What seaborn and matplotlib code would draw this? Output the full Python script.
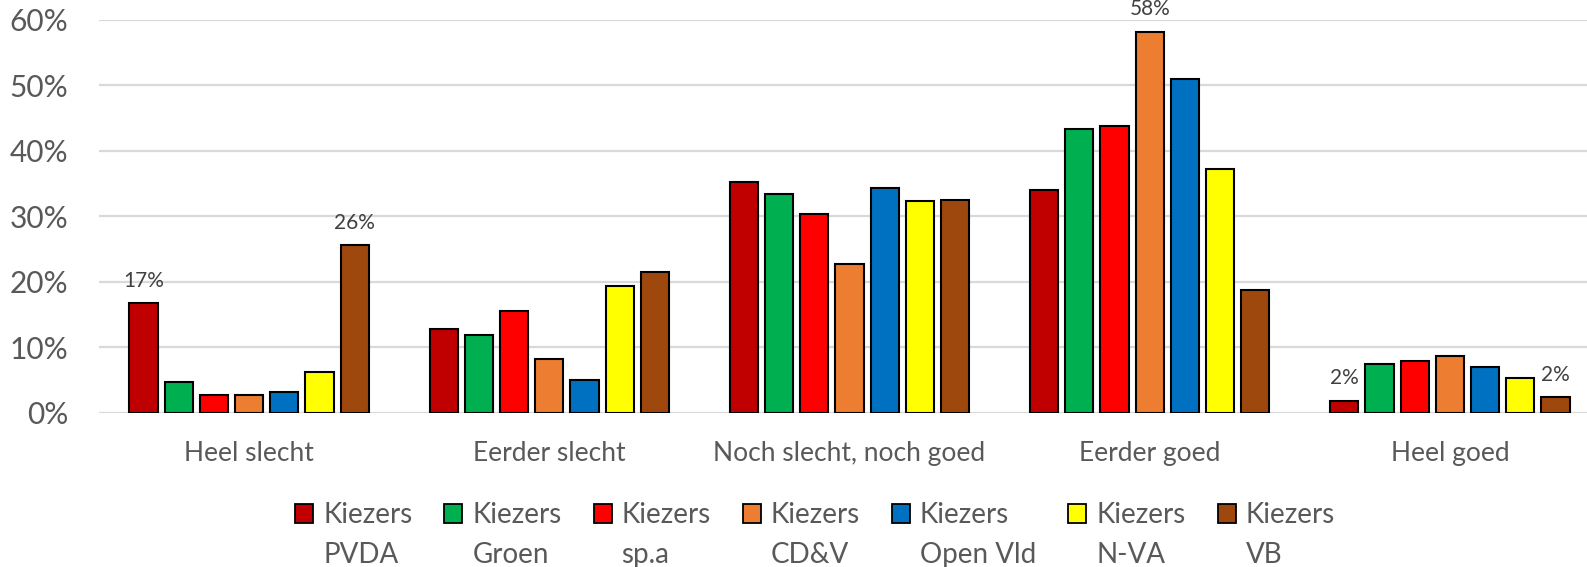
import numpy as np
import pandas as pd
import matplotlib
matplotlib.use("Agg")
import matplotlib.pyplot as plt
import seaborn as sns
from matplotlib.patches import Patch

categories = ["Heel slecht", "Eerder slecht", "Noch slecht, noch goed", "Eerder goed", "Heel goed"]
parties = ["PVDA", "Groen", "sp.a", "CD&V", "Open Vld", "N-VA", "VB"]
pvda = [16.7, 12.8, 35.2, 34.0, 1.9]
groen = [4.7, 11.9, 33.4, 43.3, 7.4]
spa = [2.8, 15.6, 30.4, 43.7, 8.0]
cdv = [2.7, 8.2, 22.7, 58.1, 8.7]
openvld = [3.2, 5.1, 34.3, 51.0, 7.0]
nva = [6.2, 19.3, 32.3, 37.2, 5.4]
vb = [25.6, 21.5, 32.5, 18.7, 2.4]
colors = ["#C00000", "#00B050", "#FF0000", "#ED7D31", "#0070C0", "#FFFF00", "#9E480E"]
labeled = [("Heel slecht", "PVDA"), ("Heel slecht", "VB"), ("Eerder goed", "CD&V"),
           ("Heel goed", "PVDA"), ("Heel goed", "VB")]

series = [pvda, groen, spa, cdv, openvld, nva, vb]
rows = []
for p, vals in zip(parties, series):
    for c, v in zip(categories, vals):
        rows.append({"category": c, "party": p, "value": v})
df = pd.DataFrame(rows)

sns.set_style("white")
plt.rcParams["font.family"] = ["Lato", "DejaVu Sans"]
TXT = "#595959"
FS = 19
LFS = 20

W, H = 1587, 567
fig = plt.figure(figsize=(W / 100, H / 100), dpi=100)
ax = fig.add_axes([99 / W, (H - 413) / H, 1501 / W, (413 - 19.5) / H])

sns.barplot(data=df, x="category", y="value", hue="party", order=categories,
            hue_order=parties, palette=colors, width=0.821, gap=0.2,
            edgecolor="black", linewidth=1.5, saturation=1, errorbar=None,
            legend=False, ax=ax)

ax.set_xlim(-0.5, 4.5)
ax.set_ylim(0, 60)
ax.set_yticks(range(0, 61, 10))
ax.set_yticklabels([f"{v}%" for v in range(0, 61, 10)])
ax.yaxis.grid(True, color="#D9D9D9", linewidth=1.6)
ax.set_axisbelow(True)
for s in ax.spines.values():
    s.set_visible(False)
ax.set_xlabel("")
ax.set_ylabel("")
ax.tick_params(axis="y", length=0, pad=22, labelsize=21.5, labelcolor=TXT)
ax.tick_params(axis="x", length=0, pad=20, labelsize=FS, labelcolor=TXT)

# data labels
for p, cont in zip(parties, ax.containers):
    for c, bar in zip(categories, cont):
        if (c, p) in labeled:
            val = bar.get_height()
            ax.annotate(f"{val:.0f}%", (bar.get_x() + bar.get_width() / 2, val),
                        xytext=(0, 9), textcoords="offset points", ha="center",
                        va="bottom", fontsize=15, color="#404040", annotation_clip=False)

# legend: one entry per party, two-line labels ("Kiezers" / party)
fig.canvas.draw()
renderer = fig.canvas.get_renderer()


def text_width(s):
    t = fig.text(0, 0, s, fontsize=LFS)
    w = t.get_window_extent(renderer).width
    t.remove()
    return w


wk = text_width("Kiezers")
fspx = LFS * 100 / 72
hl_px, pad_px, colsp = 18, 10, 32
x = 295
legs = []
for c, p in zip(colors, parties):
    leg = fig.legend([Patch(facecolor=c, edgecolor="black", linewidth=1.3)], ["Kiezers"],
                     loc="upper left", bbox_to_anchor=(x / W, 1 - 502 / H),
                     frameon=False, fontsize=LFS, labelcolor=TXT, borderpad=0,
                     borderaxespad=0, handlelength=hl_px / fspx,
                     handleheight=19 / fspx, handletextpad=pad_px / fspx)
    legs.append(leg)
    x += hl_px + pad_px + max(wk, text_width(p)) + colsp

fig.canvas.draw()
for leg, p in zip(legs, parties):
    bb = leg.get_texts()[0].get_window_extent(renderer)
    fig.text(bb.x0 / W, (bb.y0 - 40) / H, p, fontsize=LFS, color=TXT,
             ha="left", va="bottom")

fig.savefig("out.png", dpi=100)
